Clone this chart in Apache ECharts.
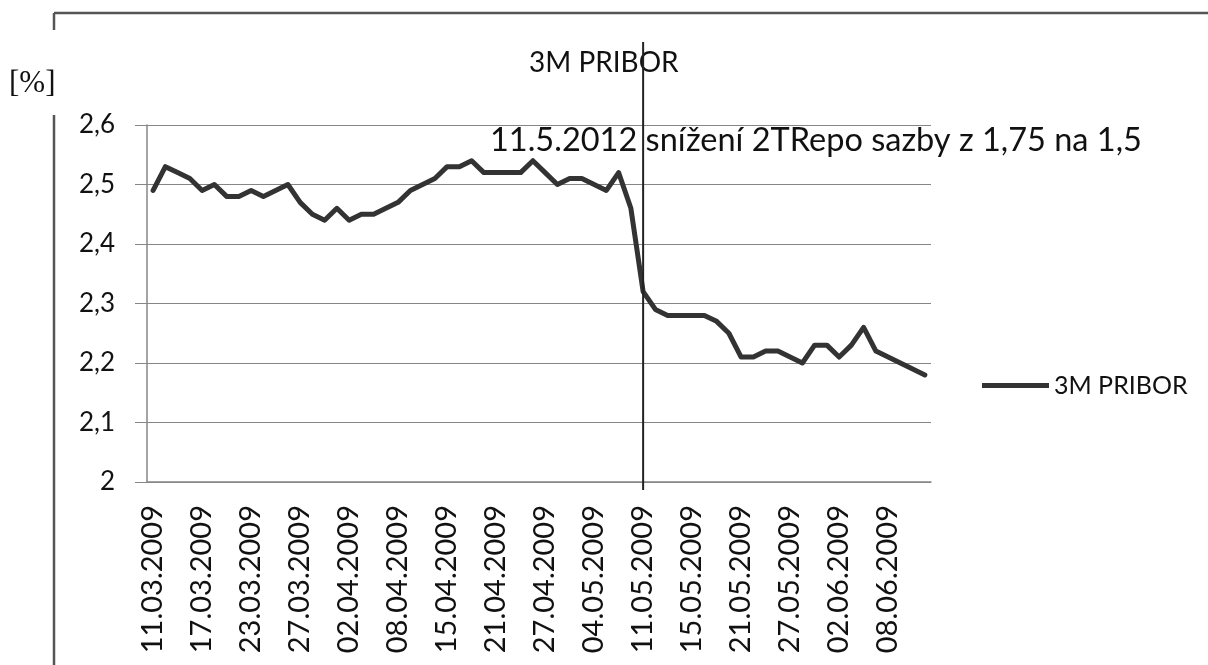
<!DOCTYPE html>
<html>
<head>
<meta charset="utf-8">
<script src="https://cdn.jsdelivr.net/npm/echarts@6/dist/echarts.min.js"></script>
<style>
  html, body { margin: 0; padding: 0; background: #fff; }
  #chart { width: 1208px; height: 665px; }
</style>
</head>
<body>
<div id="chart"></div>
<script>
// obchodní dny 11.03.2009 - 11.06.2009
var dates = [
    '11.03.2009', '12.03.2009', '13.03.2009', '16.03.2009', '17.03.2009', '18.03.2009', '19.03.2009', '20.03.2009',
    '23.03.2009', '24.03.2009', '25.03.2009', '26.03.2009', '27.03.2009', '30.03.2009', '31.03.2009', '01.04.2009',
    '02.04.2009', '03.04.2009', '06.04.2009', '07.04.2009', '08.04.2009', '09.04.2009', '10.04.2009', '14.04.2009',
    '15.04.2009', '16.04.2009', '17.04.2009', '20.04.2009', '21.04.2009', '22.04.2009', '23.04.2009', '24.04.2009',
    '27.04.2009', '28.04.2009', '29.04.2009', '30.04.2009', '04.05.2009', '05.05.2009', '06.05.2009', '07.05.2009',
    '11.05.2009', '12.05.2009', '13.05.2009', '14.05.2009', '15.05.2009', '18.05.2009', '19.05.2009', '20.05.2009',
    '21.05.2009', '22.05.2009', '25.05.2009', '26.05.2009', '27.05.2009', '28.05.2009', '29.05.2009', '01.06.2009',
    '02.06.2009', '03.06.2009', '04.06.2009', '05.06.2009', '08.06.2009', '09.06.2009', '10.06.2009', '11.06.2009'
];
var pribor = [
    2.49, 2.53, 2.52, 2.51, 2.49, 2.50, 2.48, 2.48,
    2.49, 2.48, 2.49, 2.50, 2.47, 2.45, 2.44, 2.46,
    2.44, 2.45, 2.45, 2.46, 2.47, 2.49, 2.50, 2.51,
    2.53, 2.53, 2.54, 2.52, 2.52, 2.52, 2.52, 2.54,
    2.52, 2.50, 2.51, 2.51, 2.50, 2.49, 2.52, 2.46,
    2.32, 2.29, 2.28, 2.28, 2.28, 2.28, 2.27, 2.25,
    2.21, 2.21, 2.22, 2.22, 2.21, 2.20, 2.23, 2.23,
    2.21, 2.23, 2.26, 2.22, 2.21, 2.20, 2.19, 2.18
];
var markDate = '11.05.2009';
var markText = '11.5.2012 snížení 2TRepo sazby z 1,75 na 1,5';

var font = 'Lato';
var myChart = echarts.init(document.getElementById('chart'));

var option = {
    animation: false,
    backgroundColor: '#fff',
    title: {
        text: '3M PRIBOR',
        left: 524,
        top: 44,
        textStyle: {
            color: '#111',
            fontFamily: font,
            fontWeight: 'normal',
            fontSize: 28
        }
    },
    legend: {
        data: ['3M PRIBOR'],
        left: 977,
        top: 368,
        icon: 'rect',
        itemWidth: 67,
        itemHeight: 5,
        textStyle: {
            color: '#111',
            fontFamily: font,
            fontSize: 25
        }
    },
    grid: {
        left: 147,
        right: 277,
        top: 125,
        bottom: 183
    },
    xAxis: {
        type: 'category',
        data: dates,
        boundaryGap: true,
        axisLine: { lineStyle: { color: '#868686', width: 1.5 } },
        axisTick: { interval: 0, length: 9, lineStyle: { color: '#868686' } },
        axisLabel: {
            interval: 3,
            rotate: 90,
            margin: 23,
            color: '#111',
            fontFamily: font,
            fontSize: 29
        },
        splitLine: { show: false }
    },
    yAxis: {
        type: 'value',
        min: 2,
        max: 2.6,
        interval: 0.1,
        axisLine: { show: true, lineStyle: { color: '#868686', width: 1.5 } },
        axisTick: { show: true, length: 12, lineStyle: { color: '#868686' } },
        axisLabel: {
            margin: 32,
            color: '#111',
            fontFamily: font,
            fontSize: 26,
            formatter: function (v) {
                return String(+v.toFixed(1)).replace('.', ',');
            }
        },
        splitLine: { lineStyle: { color: '#868686', width: 1.2 } }
    },
    series: [{
        name: '3M PRIBOR',
        type: 'line',
        data: pribor,
        symbol: 'none',
        itemStyle: { color: '#333' },
        lineStyle: { color: '#333', width: 5, join: 'round', cap: 'round' }
    }]
};
myChart.setOption(option);

// svislá čára u data snížení sazby + rámeček
var mx = myChart.convertToPixel({ xAxisIndex: 0 }, markDate);
myChart.setOption({
    graphic: [
        { type: 'line', shape: { x1: 54, y1: 13, x2: 1208, y2: 13 }, style: { stroke: '#555', lineWidth: 2.5 } },
        { type: 'line', shape: { x1: 54, y1: 13, x2: 54, y2: 30 }, style: { stroke: '#555', lineWidth: 2.5 } },
        { type: 'line', shape: { x1: 54, y1: 115, x2: 54, y2: 665 }, style: { stroke: '#555', lineWidth: 2.5 } },
        {
            type: 'text', left: 9, top: 68,
            style: { text: '[%]', fill: '#111', font: '31px "Liberation Serif"' }
        },
        {
            type: 'line', z: 10,
            shape: { x1: mx, y1: 42, x2: mx, y2: 490 },
            style: { stroke: '#222', lineWidth: 2 }
        },
        {
            type: 'text', left: 490, top: 124,
            style: { text: markText, fill: '#111', font: '32.5px Lato' }
        }
    ]
});
</script>
</body>
</html>
